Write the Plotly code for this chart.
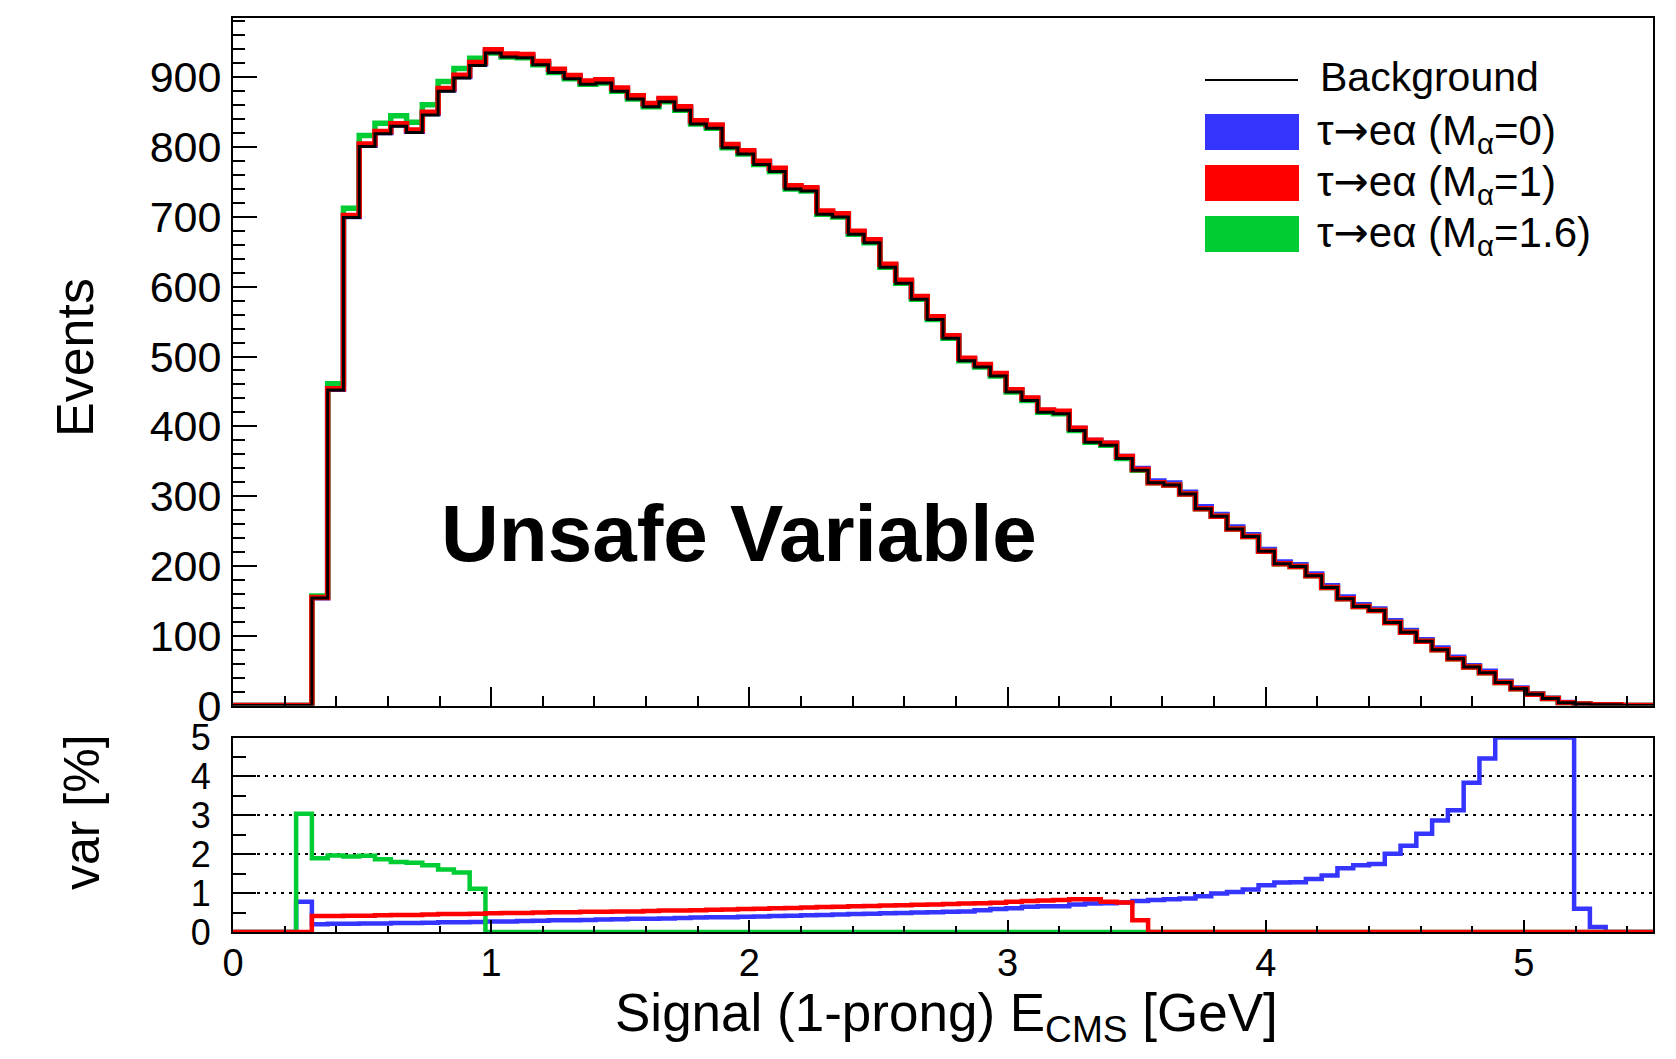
import numpy as np
import plotly.graph_objects as go

# ---------------- data ----------------
x_min, x_max, n_bins = 0.0, 5.5, 90
edges = np.linspace(x_min, x_max, n_bins + 1)

background = [
    0, 0, 0, 0, 0, 154, 452, 699, 801, 819,
    830, 821, 846, 880, 899, 917, 935, 929, 928, 918,
    907, 898, 890, 892, 880, 869, 858, 865, 853, 833,
    827, 799, 790, 775, 765, 740, 737, 704, 700, 675,
    663, 628, 605, 582, 553, 526, 494, 485, 472, 449,
    437, 420, 418, 394, 377, 373, 354, 337, 319, 316,
    303, 282, 271, 253, 242, 221, 203, 199, 186, 169,
    153, 142, 136, 119, 105, 92, 80, 67, 55, 47,
    33, 24, 16, 10, 4, 2, 1, 1, 0, 0,
]

# relative contribution of each signal hypothesis, in %
var_m0 = [
    0, 0, 0, 0, 0.78, 0.20, 0.21, 0.21, 0.22, 0.22,
    0.23, 0.23, 0.24, 0.25, 0.25, 0.26, 0.27, 0.27, 0.28, 0.29,
    0.30, 0.30, 0.31, 0.32, 0.33, 0.34, 0.34, 0.35, 0.36, 0.37,
    0.38, 0.38, 0.39, 0.40, 0.41, 0.42, 0.43, 0.44, 0.45, 0.46,
    0.47, 0.48, 0.49, 0.50, 0.51, 0.52, 0.53, 0.56, 0.59, 0.61,
    0.65, 0.66, 0.66, 0.71, 0.73, 0.74, 0.76, 0.80, 0.82, 0.84,
    0.86, 0.92, 0.99, 1.03, 1.09, 1.20, 1.27, 1.28, 1.36, 1.45,
    1.64, 1.72, 1.75, 2.01, 2.22, 2.53, 2.87, 3.13, 3.84, 4.46,
    5.0, 5.0, 5.0, 5.0, 5.0, 0.60, 0.13, 0, 0, 0,
]
var_m1 = [
    0, 0, 0, 0, 0, 0.41, 0.41, 0.42, 0.42, 0.43,
    0.44, 0.44, 0.45, 0.46, 0.46, 0.47, 0.48, 0.49, 0.49, 0.50,
    0.51, 0.51, 0.52, 0.52, 0.53, 0.53, 0.54, 0.55, 0.55, 0.56,
    0.57, 0.58, 0.59, 0.60, 0.61, 0.62, 0.63, 0.64, 0.65, 0.66,
    0.67, 0.68, 0.69, 0.70, 0.71, 0.72, 0.73, 0.74, 0.75, 0.78,
    0.80, 0.81, 0.82, 0.84, 0.84, 0.78, 0.76, 0.30, 0, 0,
    0, 0, 0, 0, 0, 0, 0, 0, 0, 0,
    0, 0, 0, 0, 0, 0, 0, 0, 0, 0,
    0, 0, 0, 0, 0, 0, 0, 0, 0, 0,
]
var_m16 = [
    0, 0, 0, 0, 3.04, 1.90, 1.97, 1.94, 1.96, 1.87,
    1.80, 1.78, 1.72, 1.61, 1.53, 1.11, 0, 0, 0, 0,
    0, 0, 0, 0, 0, 0, 0, 0, 0, 0,
    0, 0, 0, 0, 0, 0, 0, 0, 0, 0,
    0, 0, 0, 0, 0, 0, 0, 0, 0, 0,
    0, 0, 0, 0, 0, 0, 0, 0, 0, 0,
    0, 0, 0, 0, 0, 0, 0, 0, 0, 0,
    0, 0, 0, 0, 0, 0, 0, 0, 0, 0,
    0, 0, 0, 0, 0, 0, 0, 0, 0, 0,
]

ARROW = '<span style="font-family:DejaVu Sans">→</span>'
series_names = [f"τ{ARROW}eα (M<sub>α</sub>=0)",
                f"τ{ARROW}eα (M<sub>α</sub>=1)",
                f"τ{ARROW}eα (M<sub>α</sub>=1.6)"]
BLUE, RED, GREEN = "#3535ff", "#ff0000", "#00cc33"

# ---------------- helpers ----------------
bkg = np.array(background, dtype=float)


def step(vals):
    v = list(vals)
    return list(edges), v + [v[-1]]


FONT = "Liberation Sans, Arial, Helvetica, sans-serif"

fig = go.Figure()

# top panel: background + signal
for var, col in [(var_m0, BLUE), (var_m16, GREEN), (var_m1, RED)]:
    tot = bkg * (1 + np.array(var) / 100.0)
    xs, ys = step(tot)
    fig.add_trace(go.Scatter(x=xs, y=ys, mode="lines", line=dict(color=col, width=5.5, shape="hv"),
                             xaxis="x", yaxis="y", showlegend=False, hoverinfo="skip"))
xs, ys = step(bkg)
fig.add_trace(go.Scatter(x=xs, y=ys, mode="lines", line=dict(color="black", width=3, shape="hv"),
                         xaxis="x", yaxis="y", showlegend=False, hoverinfo="skip"))

# bottom panel: variation in %
for var, col in [(var_m0, BLUE), (var_m16, GREEN), (var_m1, RED)]:
    xs, ys = step(var)
    fig.add_trace(go.Scatter(x=xs, y=ys, mode="lines", line=dict(color=col, width=4.5, shape="hv"),
                             xaxis="x2", yaxis="y2", showlegend=False, hoverinfo="skip"))

# ---------------- layout ----------------
L, R, T, B = 233, 1653, 18, 932
W, H = 1676, 1059
ph = B - T
pw = R - L


def px2x(px):
    return (px - L) / pw


def py2y(py):
    return (B - py) / ph


top_dom = [py2y(705.5), 1.0]
bot_dom = [0.0, py2y(737.6)]

axis_common = dict(showline=True, linecolor="black", linewidth=2, mirror=True,
                   showgrid=False, zeroline=False, tickcolor="black", tickwidth=2,
                   ticks="inside", automargin=False)

fig.update_layout(
    width=W, height=H,
    margin=dict(l=L, r=W - R, t=T, b=H - B, autoexpand=False),
    paper_bgcolor="white", plot_bgcolor="white",
    font=dict(family=FONT, color="black"),
    xaxis=dict(axis_common, domain=[0, 1], anchor="y", range=[x_min, x_max], dtick=1,
               ticklen=19, showticklabels=False, matches="x2",
               minor=dict(dtick=0.2, ticklen=10, ticks="inside", tickcolor="black", tickwidth=2)),
    yaxis=dict(axis_common, domain=top_dom, anchor="x", range=[0, 985], dtick=100,
               ticklen=24, tickfont=dict(size=43, family=FONT), ticklabelstandoff=1,
               minor=dict(dtick=20, ticklen=12, ticks="inside", tickcolor="black", tickwidth=2)),
    xaxis2=dict(axis_common, domain=[0, 1], anchor="y2", range=[x_min, x_max], dtick=1,
                ticklen=12, tickfont=dict(size=38, family=FONT), ticklabelstandoff=-4,
                minor=dict(dtick=0.2, ticklen=6, ticks="inside", tickcolor="black", tickwidth=2)),
    yaxis2=dict(axis_common, domain=bot_dom, anchor="x2", range=[0, 5], dtick=1,
                ticklen=23, tickfont=dict(size=36, family=FONT), ticklabelstandoff=13,
                showgrid=True, gridcolor="black", gridwidth=2, griddash="3px,5px",
                minor=dict(dtick=0.5, ticklen=13, ticks="inside", tickcolor="black", tickwidth=2)),
)

annotations = [
    dict(text="Events", xref="paper", yref="paper", x=px2x(75), y=py2y(358),
         textangle=-90, showarrow=False, xanchor="center", yanchor="middle",
         font=dict(size=52, family=FONT)),
    dict(text="var [%]", xref="paper", yref="paper", x=px2x(82), y=py2y(812),
         textangle=-90, showarrow=False, xanchor="center", yanchor="middle",
         font=dict(size=50, family=FONT)),
    dict(text="Signal (1-prong) E<sub>CMS</sub> [GeV]", xref="paper", yref="paper",
         x=px2x(1280), y=py2y(1016), showarrow=False, xanchor="right", yanchor="middle",
         font=dict(size=53, family=FONT)),
    dict(text="<b>Unsafe Variable</b>", xref="x", yref="y", x=1.96, y=246,
         showarrow=False, xanchor="center", yanchor="middle",
         font=dict(size=80, family=FONT)),
    dict(text="Background", xref="paper", yref="paper", x=px2x(1318), y=py2y(77),
         showarrow=False, xanchor="left", yanchor="middle", font=dict(size=41, family=FONT)),
]
shapes = [
    dict(type="line", xref="paper", yref="paper", x0=px2x(1205), x1=px2x(1298),
         y0=py2y(80), y1=py2y(80), line=dict(color="black", width=2)),
]
for name, col, (y0, y1) in zip(series_names, [BLUE, RED, GREEN],
                               [(114, 150), (165, 201), (216, 252)]):
    shapes.append(dict(type="rect", xref="paper", yref="paper", x0=px2x(1205), x1=px2x(1299),
                       y0=py2y(y1), y1=py2y(y0), fillcolor=col, line=dict(width=0)))
    annotations.append(dict(text=name, xref="paper", yref="paper", x=px2x(1315),
                            y=py2y((y0 + y1) / 2 + 1), showarrow=False, xanchor="left",
                            yanchor="middle", font=dict(size=42, family=FONT)))

fig.update_layout(annotations=annotations, shapes=shapes)

fig.write_html("out.html")
